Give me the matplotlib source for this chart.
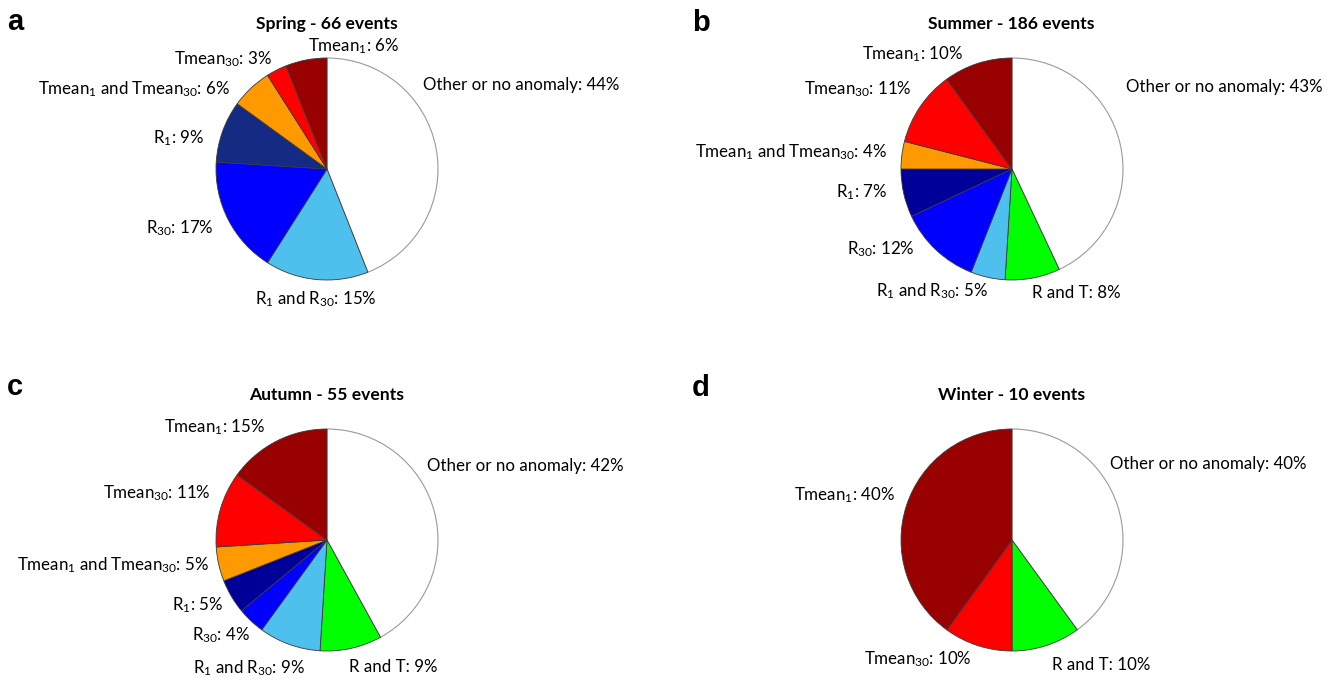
import matplotlib.pyplot as plt

plt.rcParams['font.family'] = ['Lato', 'DejaVu Sans']
plt.rcParams['mathtext.default'] = 'regular'

# slice order, clockwise from the top
names = ['Other or no anomaly', 'R and T', 'R$_1$ and R$_{30}$', 'R$_{30}$', 'R$_1$',
         'Tmean$_1$ and Tmean$_{30}$', 'Tmean$_{30}$', 'Tmean$_1$']
colors = ['#ffffff', '#00ff00', '#4ec0ee', '#0000ff', '#000099', '#ff9900', '#ff0000', '#990000']

titles = ['Spring - 66 events', 'Summer - 186 events', 'Autumn - 55 events', 'Winter - 10 events']
letters = ['a', 'b', 'c', 'd']
spring = [44, 0, 15, 17, 9, 6, 3, 6]
summer = [43, 8, 5, 12, 7, 4, 11, 10]
autumn = [42, 9, 9, 4, 5, 5, 11, 15]
winter = [40, 10, 0, 0, 0, 0, 10, 40]
seasons = [spring, summer, autumn, winter]

W, H = 1337, 684
fig = plt.figure(figsize=(W / 100, H / 100), dpi=100)
ax = fig.add_axes([0, 0, 1, 1])

# layout (pixels from top-left): pie centre, title/letter positions, label anchors
centres = [(327, 169), (1012, 169), (327, 540), (1012, 540)]
title_pos = [(327, 29), (1011, 29), (327, 400), (1012, 400)]
letter_pos = [(7, 30), (692, 31), (7, 395), (692, 396)]
label_pos = [
    {0: (423, 90, 'left'), 2: (255, 304, 'left'), 3: (214, 233, 'right'), 4: (204, 143, 'right'),
     5: (230, 94, 'right'), 6: (272, 64, 'right'), 7: (308, 51, 'left')},
    {0: (1126, 92, 'left'), 1: (1032, 298, 'left'), 2: (988, 296, 'right'), 3: (915, 254, 'right'),
     4: (887, 197, 'right'), 5: (887, 157, 'right'), 6: (912, 94, 'right'), 7: (963, 59, 'right')},
    {0: (427, 471, 'left'), 1: (349, 672, 'left'), 2: (305, 673, 'right'), 3: (250, 640, 'right'),
     4: (223, 610, 'right'), 5: (209, 570, 'right'), 6: (211, 498, 'right'), 7: (265, 432, 'right')},
    {0: (1110, 469, 'left'), 1: (1052, 670, 'left'), 6: (972, 664, 'right'), 7: (895, 500, 'right')},
]

for k, vals in enumerate(seasons):
    idx = [i for i, v in enumerate(vals) if v > 0]
    cols = [colors[i] for i in idx]
    if k == 0:
        cols = ['#152a82' if i == 4 else colors[i] for i in idx]
    cx, cy = centres[k]
    wedges, _ = ax.pie([vals[i] for i in idx], colors=cols, startangle=90, counterclock=False,
                       center=(cx, H - cy), radius=111, frame=True,
                       wedgeprops=dict(edgecolor='#3a3a3a', linewidth=0.6))
    for w, i in zip(wedges, idx):
        if i == 0:
            w.set_edgecolor('#9a9a9a')
            w.set_linewidth(0.8)
        x, y, ha = label_pos[k][i]
        ax.text(x, H - y, f'{names[i]}: {vals[i]}%', ha=ha, va='baseline', fontsize=12.2)
    tx, ty = title_pos[k]
    ax.text(tx, H - ty, titles[k], ha='center', va='baseline', fontsize=12.6, fontweight='bold')
    lx, ly = letter_pos[k]
    ax.text(lx, H - ly, letters[k], ha='left', va='baseline', fontsize=21, fontweight='bold',
            family='Liberation Sans')

ax.set_xlim(0, W)
ax.set_ylim(0, H)
ax.set_aspect('equal')
ax.axis('off')
fig.savefig('out.png', dpi=100)
